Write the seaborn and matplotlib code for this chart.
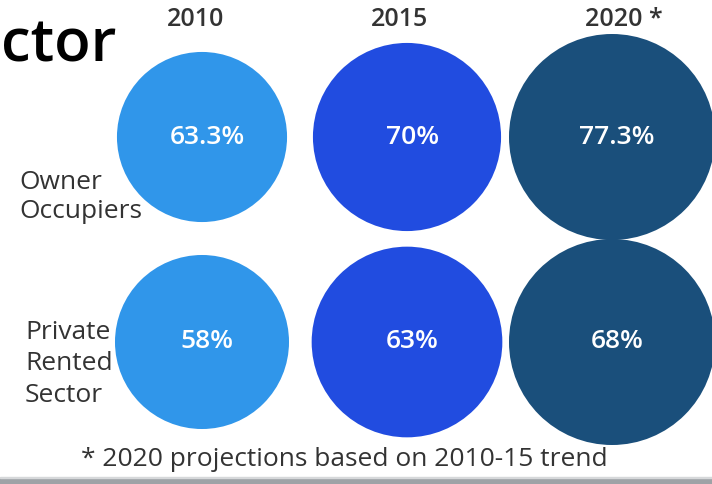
import matplotlib
matplotlib.use("Agg")
import pandas as pd
import seaborn as sns
from matplotlib import pyplot as plt
from matplotlib.patches import Rectangle

# data
years = ["2010", "2015", "2020"]
year_labels = ["2010", "2015", "2020 *"]
groups = ["Owner\nOccupiers", "Private\nRented\nSector"]
owner_occupiers = [63.3, 70, 77.3]
private_rented = [58, 63, 68]
title_fragment = "ctor"
footnote = "* 2020 projections based on 2010-15 trend"

palette = {"2010": "#3096ea", "2015": "#214ce0", "2020": "#1a4f7b"}

W, H = 712, 484


def px(x, y):
    # pixel position (from top-left) to figure fraction
    return x / W, 1 - y / H


sns.set_theme(style="white")
plt.rcParams["font.family"] = ["Open Sans", "DejaVu Sans"]

fig = plt.figure(figsize=(W / 100, H / 100), dpi=100)
ax = fig.add_axes([0, 0, 1, 1])

rows = [owner_occupiers, private_rented]
size_ranges = [(15000, 22000), (15700, 22000)]
for r, values in enumerate(rows):
    df = pd.DataFrame({
        "col": range(len(years)),
        "row": [r] * len(years),
        "year": years,
        "value": values,
    })
    sns.scatterplot(data=df, x="col", y="row", hue="year", palette=palette,
                    size="value", sizes=size_ranges[r], linewidth=0,
                    legend=False, ax=ax, zorder=2)
    for c, v in enumerate(values):
        ax.text(c + 0.025, r, f"{v:g}%", color="white", fontsize=19,
                fontweight="semibold", ha="center", va="center", zorder=3)

ax.set_xlim(-202 / 205, 2 + 100 / 205)
ax.set_ylim(1 + 142 / 205, -137 / 205)
ax.set_axis_off()

# column headings
for label, x in zip(year_labels, [196, 400, 624]):
    fig.text(*px(x, 20), label, ha="center", va="center", fontsize=18,
             color="#333333", fontweight="semibold")

# row labels
fig.text(*px(19, 197), groups[0], ha="left", va="center", fontsize=19,
         color="#333333", fontweight="medium", linespacing=1.25)
fig.text(*px(25, 364), groups[1], ha="left", va="center", fontsize=19,
         color="#333333", fontweight="medium", linespacing=1.32)

# cut-off title
fig.text(*px(1, 62), title_fragment, ha="left", va="baseline",
         fontsize=43, fontweight="semibold", color="black")

fig.text(*px(344, 460), footnote, ha="center", va="center", fontsize=19,
         color="#333333", fontweight="medium")

# grey band at the bottom edge
fig.patches.append(Rectangle((0, 0), 1, 6 / H, transform=fig.transFigure,
                             color="#9ea2a6", zorder=0))
fig.patches.append(Rectangle((0, 6 / H), 1, 1.5 / H, transform=fig.transFigure,
                             color="#d6d8da", zorder=0))

fig.savefig("out.png", dpi=100)
